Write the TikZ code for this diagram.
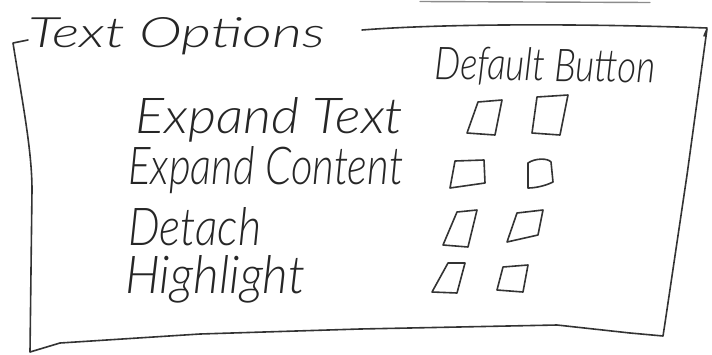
\documentclass[tikz,border=0pt]{standalone}
\usepackage{fontspec}
\newfontfamily\hand{Lato}[UprightFont=* Light, ItalicFont=* Light Italic]
\usepackage{graphicx}
\tikzset{
  ink/.style={draw=black!80, line width=1.6pt, line cap=round, line join=round},
  faint/.style={draw=black!45, line width=1.4pt, line cap=round},
  lbl/.style={inner sep=0pt, anchor=base west, text=black!85},
}
\newcommand{\hw}[3]{\resizebox{#1pt}{#2pt}{\hand\itshape #3}}
\begin{document}
\begin{tikzpicture}[x=1pt,y=-1pt]
\useasboundingbox[fill=white] (0,0) rectangle (712,354);
% faint line of a previous sketch at the top edge
\draw[faint] (420,1.5) -- (650,2.5);
% frame
\draw[ink] (28,40) -- (13,43) .. controls (22,100) and (32,150) .. (32,190) -- (30,352)
  -- (60,343) -- (200,334) -- (360,329) -- (557,325) -- (630,333) -- (663,336)
  -- (665,323) -- (687,175) -- (707,29) -- (704,36);
\draw[ink] (362,30) .. controls (450,23) and (600,24) .. (707,28);
% texts
\node[lbl] (title) at (28,47) {\hw{297}{30}{Text Options}};
\node[lbl, rotate=-1] (head) at (434,79) {\hw{221}{33}{Default Button}};
\node[lbl] (t1) at (135,133) {\hw{268}{36}{Expand Text}};
\node[lbl] (t2) at (128,184) {\hw{275}{38}{Expand Content}};
\node[lbl] (t3) at (128,245) {\hw{133}{38}{Detach}};
\node[lbl] (t4) at (125,293) {\hw{180}{38}{Highlight}};
% check boxes
\draw[ink] (478,102) -- (502,100) -- (495,135) -- (467,133) -- cycle;
\draw[ink] (537,97) -- (568,95) -- (560,135) -- (532,133) -- cycle;
\draw[ink] (455,161) -- (484,160) -- (485,183) -- (450,188) -- cycle;
\draw[ink] (528,163) .. controls (535,158) and (548,158) .. (551,162) -- (553,182) .. controls (545,186) and (535,188) .. (528,188) -- cycle;
\draw[ink] (457,212) -- (477,210) -- (468,247) -- (443,245) -- cycle;
\draw[ink] (517,213) -- (543,210) -- (538,235) -- (507,242) -- cycle;
\draw[ink] (448,263) -- (465,263) -- (457,293) -- (432,292) -- cycle;
\draw[ink] (503,267) -- (528,265) -- (523,292) -- (497,290) -- cycle;
\end{tikzpicture}
\end{document}
